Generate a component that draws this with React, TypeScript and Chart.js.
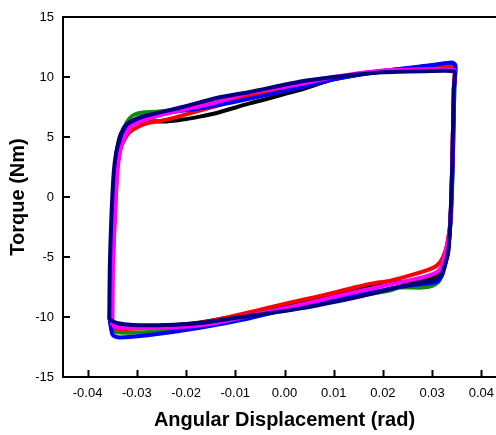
import React, { useEffect, useRef } from "react";
import { Chart, registerables } from "chart.js";

Chart.register(...registerables);

const xTicks = [-0.04, -0.03, -0.02, -0.01, 0.0, 0.01, 0.02, 0.03, 0.04];
const yTicks = [-15, -10, -5, 0, 5, 10, 15];

const blackX = [-0.0354, -0.0352, -0.0348, -0.0344, -0.034, -0.0332, -0.032, -0.03, -0.027, -0.024, -0.0207, -0.0172, -0.0138, -0.0071, 0.003, 0.01, 0.02, 0.03, 0.034, 0.0347, 0.0344, 0.0341, 0.0337, 0.0332, 0.0327, 0.0318, 0.0305, 0.028, 0.0233, 0.0213, 0.0146, 0.0077, 0.001, -0.0071, -0.0172, -0.024, -0.03, -0.0338, -0.0354];
const blackY = [-10.3, -6, -2, 2, 4.0, 5.3, 5.9, 6.2, 6.3, 6.3, 6.45, 6.7, 7.0, 7.8, 8.9, 9.8, 10.5, 10.9, 11.1, 10.9, 9.0, 3.0, -2.0, -4.5, -5.3, -6.1, -6.6, -6.9, -7.1, -7.1, -7.7, -8.3, -8.9, -9.7, -10.45, -10.7, -10.8, -10.7, -10.3];

const redX = [-0.035, -0.0349, -0.0345, -0.034, -0.0335, -0.0325, -0.0315, -0.0295, -0.0274, -0.024, -0.0207, -0.0138, -0.0071, 0.003, 0.01, 0.02, 0.03, 0.034, 0.0346, 0.0344, 0.0341, 0.0337, 0.033, 0.0322, 0.031, 0.029, 0.025, 0.0213, 0.0179, 0.0146, 0.0077, 0.001, -0.0071, -0.0172, -0.024, -0.03, -0.0335, -0.035];
const redY = [-10.9, -6, -2, 2, 3.8, 4.8, 5.4, 5.9, 6.2, 6.45, 6.8, 7.6, 8.4, 9.3, 9.9, 10.5, 10.7, 10.8, 10.7, 9.0, 3.0, -2.0, -4.0, -5.0, -5.7, -6.1, -6.6, -7.0, -7.2, -7.5, -8.2, -8.8, -9.6, -10.5, -10.8, -10.95, -11.0, -10.9];

const greenX = [-0.0354, -0.0352, -0.0349, -0.0344, -0.0338, -0.0331, -0.032, -0.0308, -0.0288, -0.026, -0.0207, -0.0138, -0.0071, 0.003, 0.01, 0.02, 0.03, 0.034, 0.0347, 0.0345, 0.0342, 0.0338, 0.0332, 0.0325, 0.0314, 0.03, 0.028, 0.0233, 0.0213, 0.0146, 0.0077, 0.003, -0.0071, -0.0172, -0.0274, -0.0335, -0.0349, -0.0354];
const greenY = [-10.3, -6, -2, 2, 4.0, 5.2, 6.25, 6.8, 7.05, 7.1, 7.35, 7.9, 8.5, 9.2, 9.85, 10.45, 10.8, 10.9, 10.8, 9.0, 3.0, -2.0, -3.8, -5.9, -7.0, -7.4, -7.55, -7.55, -7.8, -8.3, -8.85, -9.25, -10.0, -10.8, -11.25, -11.3, -11.1, -10.3];

const blueX = [-0.0355, -0.0353, -0.035, -0.0345, -0.034, -0.0331, -0.0316, -0.029, -0.024, -0.0172, -0.0105, 0.003, 0.01, 0.02, 0.03, 0.034, 0.0347, 0.0345, 0.0342, 0.0337, 0.0332, 0.0327, 0.032, 0.0308, 0.028, 0.0233, 0.0146, 0.003, -0.0071, -0.0172, -0.0274, -0.0335, -0.0349, -0.0355];
const blueY = [-10.3, -6, -2, 2, 4.0, 5.0, 6.0, 6.6, 7.0, 7.4, 7.9, 9.1, 9.8, 10.5, 11.0, 11.2, 11.0, 9.0, 3.0, -2.0, -4.5, -5.5, -6.5, -7.1, -7.25, -7.5, -8.2, -9.1, -10.1, -10.9, -11.5, -11.7, -11.5, -10.3];

const navyX = [-0.0356, -0.0355, -0.0352, -0.0347, -0.0342, -0.0336, -0.0326, -0.0308, -0.0274, -0.0207, -0.0138, -0.0071, 0.003, 0.01, 0.02, 0.03, 0.034, 0.0346, 0.0344, 0.0341, 0.0337, 0.0333, 0.0328, 0.032, 0.0308, 0.028, 0.0233, 0.0146, 0.003, -0.0105, -0.0172, -0.024, -0.0308, -0.0341, -0.0356];
const navyY = [-10.2, -6, -2, 2, 3.7, 4.6, 5.8, 6.4, 6.85, 7.5, 8.25, 8.75, 9.6, 10.0, 10.4, 10.5, 10.5, 10.4, 9.0, 3.0, -2.0, -4.5, -5.4, -6.3, -6.9, -7.15, -7.5, -8.35, -9.3, -10.1, -10.5, -10.67, -10.67, -10.5, -10.2];

const magentaX = [-0.035, -0.0349, -0.0345, -0.034, -0.0334, -0.0329, -0.0314, -0.0294, -0.0254, -0.0207, -0.0138, -0.0071, 0.003, 0.01, 0.02, 0.03, 0.034, 0.0346, 0.0344, 0.0341, 0.0337, 0.033, 0.0325, 0.0318, 0.0308, 0.028, 0.0213, 0.0146, 0.003, -0.0071, -0.0172, -0.0274, -0.0335, -0.035];
const magentaY = [-10.7, -6, -2, 2, 3.8, 4.6, 5.8, 6.25, 6.8, 7.25, 7.9, 8.7, 9.4, 10.0, 10.55, 10.65, 10.6, 10.5, 9.0, 3.0, -2.0, -4.2, -5.0, -5.9, -6.3, -6.7, -7.3, -7.9, -9.0, -9.9, -10.7, -10.9, -10.9, -10.7];

const FONT = "'Liberation Sans', Arial, Helvetica, sans-serif";

function zip(xs: number[], ys: number[]) {
  return xs.map((x, i) => ({ x, y: ys[i] }));
}

const framePlugin = {
  id: "frame",
  afterDraw(chart: any) {
    const { ctx, chartArea, scales } = chart;
    const { left, top, right, bottom } = chartArea;
    ctx.save();
    ctx.strokeStyle = "#000";
    ctx.lineWidth = 2;
    ctx.strokeRect(left, top, right - left, bottom - top);
    ctx.beginPath();
    for (const v of xTicks) {
      const px = Math.round(scales.x.getPixelForValue(v)) + 0.5;
      ctx.moveTo(px, bottom);
      ctx.lineTo(px, bottom - 7);
    }
    for (const v of yTicks) {
      const py = Math.round(scales.y.getPixelForValue(v));
      ctx.moveTo(left, py);
      ctx.lineTo(left + 7, py);
    }
    ctx.stroke();
    ctx.restore();
  },
};

export default function App() {
  const ref = useRef<HTMLCanvasElement | null>(null);
  useEffect(() => {
    if (!ref.current) return;
    const series = [
      { label: "navy", xs: navyX, ys: navyY, color: "#000080" },
      { label: "magenta", xs: magentaX, ys: magentaY, color: "#ff00ff" },
      { label: "blue", xs: blueX, ys: blueY, color: "#0000ff" },
      { label: "red", xs: redX, ys: redY, color: "#ff0000" },
      { label: "green", xs: greenX, ys: greenY, color: "#108a10" },
      { label: "black", xs: blackX, ys: blackY, color: "#000000" },
    ];
    const chart = new Chart(ref.current, {
      type: "scatter",
      data: {
        datasets: series.map((s) => ({
          label: s.label,
          data: zip(s.xs, s.ys),
          showLine: true,
          borderColor: s.color,
          backgroundColor: s.color,
          borderWidth: 4,
          pointRadius: 0,
          tension: 0.25,
        })),
      },
      options: {
        responsive: false,
        animation: false,
        devicePixelRatio: 1,
        layout: { padding: { top: 17, right: 2, left: 0, bottom: 0 } },
        plugins: { legend: { display: false }, tooltip: { enabled: false } },
        scales: {
          x: {
            type: "linear",
            min: -0.045,
            max: 0.045,
            grid: { display: false, drawTicks: false },
            border: { display: false },
            afterBuildTicks: (scale: any) => {
              scale.ticks = xTicks.map((v) => ({ value: v }));
            },
            afterFit: (scale: any) => {
              scale.height = 58;
            },
            ticks: {
              padding: 9,
              color: "#000",
              maxRotation: 0,
              autoSkip: false,
              font: { family: FONT, size: 13 },
              callback: (v: any) => Number(v).toFixed(2),
            },
            title: {
              display: true,
              text: "Angular Displacement (rad)",
              color: "#000",
              font: { family: FONT, size: 20, weight: "bold" },
              padding: { top: 0, bottom: 3 },
            },
          },
          y: {
            type: "linear",
            min: -15,
            max: 15,
            grid: { display: false, drawTicks: false },
            border: { display: false },
            afterBuildTicks: (scale: any) => {
              scale.ticks = yTicks.map((v) => ({ value: v }));
            },
            afterFit: (scale: any) => {
              scale.width = 63;
            },
            ticks: {
              padding: 9,
              color: "#000",
              autoSkip: false,
              font: { family: FONT, size: 13 },
              callback: (v: any) => String(v),
            },
            title: {
              display: true,
              text: "Torque (Nm)",
              color: "#000",
              font: { family: FONT, size: 20, weight: "bold" },
              padding: { top: 6, bottom: 0 },
            },
          },
        },
      },
      plugins: [framePlugin],
    });
    return () => chart.destroy();
  }, []);
  return (
    <div
      style={{
        position: "fixed",
        left: 0,
        top: 0,
        width: 496,
        height: 435,
        overflow: "hidden",
        background: "#fff",
      }}
    >
      <canvas ref={ref} width={508} height={435} style={{ display: "block" }} />
    </div>
  );
}
